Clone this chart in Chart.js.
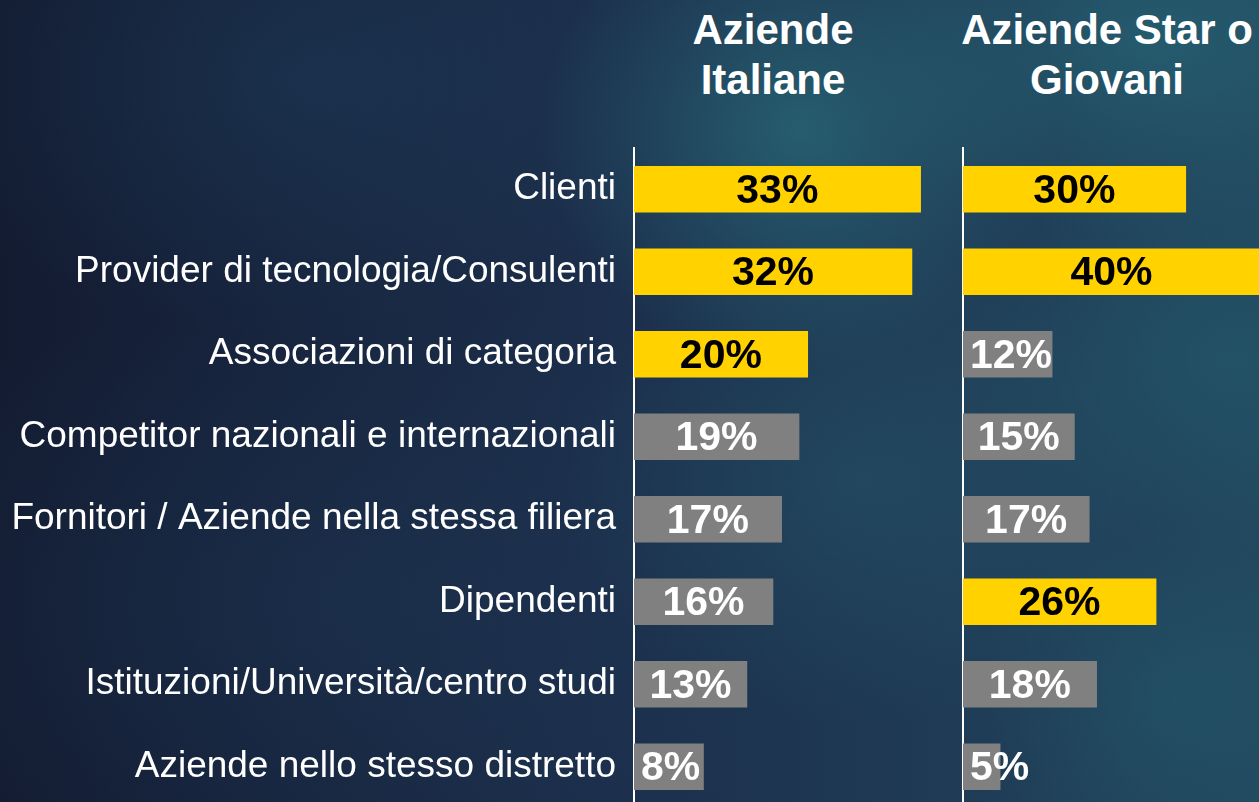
<!DOCTYPE html>
<html>
<head>
<meta charset="utf-8">
<script src="https://cdn.jsdelivr.net/npm/chart.js@4"></script>
<style>
  html, body { margin:0; padding:0; width:1259px; height:802px; overflow:hidden; }
  body {
    position:relative;
    font-family:"Liberation Sans", Arial, sans-serif;
    background:
      radial-gradient(ellipse 260px 240px at 800px 130px, rgba(45,125,135,0.55), rgba(45,125,135,0) 100%),
      radial-gradient(ellipse 300px 200px at 1150px 40px, rgba(40,110,125,0.55), rgba(40,110,125,0) 100%),
      radial-gradient(ellipse 260px 200px at 1220px 360px, rgba(35,95,110,0.45), rgba(35,95,110,0) 100%),
      radial-gradient(ellipse 200px 180px at 1180px 700px, rgba(35,95,110,0.4), rgba(35,95,110,0) 100%),
      radial-gradient(ellipse 300px 240px at 860px 480px, rgba(40,100,115,0.35), rgba(40,100,115,0) 100%),
      radial-gradient(ellipse 400px 260px at 300px 80px, rgba(30,70,100,0.35), rgba(30,70,100,0) 100%),
      radial-gradient(ellipse 600px 300px at 350px 600px, rgba(30,60,90,0.35), rgba(30,60,90,0) 100%),
      linear-gradient(90deg, #131b31 0%, #18253f 25%, #1c2f4c 50%, #1f3b55 75%, #22475e 100%);
  }
  .title {
    position:absolute; top:5px; color:#fff; font-weight:bold; font-size:42px;
    line-height:50px; text-align:center; white-space:nowrap;
  }
  canvas { position:absolute; top:0; }
</style>
</head>
<body>
<div class="title" style="left:634px;width:278px;">Aziende<br>Italiane</div>
<div class="title" style="left:955px;width:304px;">Aziende Star o<br>Giovani</div>
<canvas id="left" width="938" height="808" style="left:0px;"></canvas>
<canvas id="right" width="307" height="808" style="left:953px;"></canvas>
<script>
const categories = [
  "Clienti",
  "Provider di tecnologia/Consulenti",
  "Associazioni di categoria",
  "Competitor nazionali e internazionali",
  "Fornitori / Aziende nella stessa filiera",
  "Dipendenti",
  "Istituzioni/Università/centro studi",
  "Aziende nello stesso distretto"
];
const aziendeItaliane = [33, 32, 20, 19, 17, 16, 13, 8];
const aziendeStarGiovani = [30, 40, 12, 15, 17, 26, 18, 5];
const columnTitles = ["Aziende Italiane", "Aziende Star o Giovani"];

const YELLOW = "#FFD200";
const GREY = "#808080";

function topThreeColors(values) {
  const sorted = [...values].sort((a, b) => b - a);
  const threshold = sorted[2];
  return values.map(v => v >= threshold ? YELLOW : GREY);
}

const valueLabelPlugin = {
  id: "valueLabels",
  afterDatasetsDraw(chart) {
    const ctx = chart.ctx;
    chart.data.datasets.forEach((ds, di) => {
      const meta = chart.getDatasetMeta(di);
      meta.data.forEach((bar, i) => {
        const text = ds.data[i] + "%";
        ctx.save();
        ctx.font = "bold 41px 'Liberation Sans', Arial, sans-serif";
        const w = ctx.measureText(text).width;
        const cx = Math.max((bar.x + bar.base) / 2, bar.base + 7 + w / 2);
        ctx.textAlign = "center";
        ctx.textBaseline = "middle";
        ctx.fillStyle = ds.backgroundColor[i] === YELLOW ? "#000" : "#fff";
        ctx.fillText(text, cx, bar.y + 2);
        ctx.restore();
      });
    });
  }
};

function makeChart(id, values, max, showLabels, axisWidth) {
  return new Chart(document.getElementById(id), {
    type: "bar",
    data: {
      labels: categories,
      datasets: [{
        data: values,
        backgroundColor: topThreeColors(values),
        borderWidth: 0,
        barThickness: 46
      }]
    },
    options: {
      indexAxis: "y",
      responsive: false,
      animation: false,
      devicePixelRatio: 1,
      layout: { autoPadding: false, padding: { top: 148, bottom: 0, left: 0, right: 0 } },
      plugins: { legend: { display: false }, tooltip: { enabled: false }, title: { display: false } },
      scales: {
        x: { display: false, min: 0, max: max },
        y: {
          grid: { display: false, drawTicks: false },
          border: { display: true, color: "#ffffff", width: 2 },
          ticks: {
            display: showLabels,
            color: "#ffffff",
            padding: 18,
            autoSkip: false,
            font: { family: "'Liberation Sans', Arial, sans-serif", size: 37 }
          },
          afterFit(scale) {
            scale.width = axisWidth;
            scale.paddingTop = 0;
            scale.paddingBottom = 0;
          }
        }
      }
    },
    plugins: [valueLabelPlugin]
  });
}

makeChart("left", aziendeItaliane, 35, true, 634);
makeChart("right", aziendeStarGiovani, 40, false, 10);
</script>
</body>
</html>
